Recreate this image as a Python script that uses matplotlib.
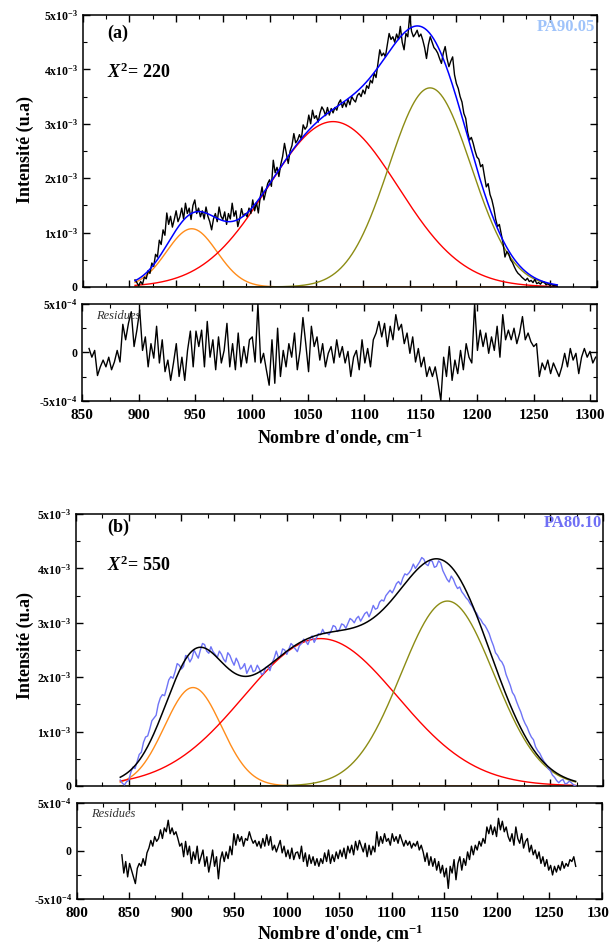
import matplotlib
matplotlib.use("Agg")
import matplotlib.pyplot as plt
import numpy as np
from matplotlib.ticker import MultipleLocator, FuncFormatter

plt.rcParams['font.family'] = ['Liberation Serif', 'DejaVu Serif']
plt.rcParams['font.weight'] = 'bold'
plt.rcParams['mathtext.fontset'] = 'custom'
plt.rcParams['mathtext.rm'] = 'Liberation Serif:bold'
plt.rcParams['mathtext.it'] = 'Liberation Serif:italic:bold'
plt.rcParams['mathtext.bf'] = 'Liberation Serif:bold'

# ---------------- panel (a) : PA90.05 ----------------
# spectrum, every 2 cm-1 from 856, intensity in 1e-3
spec_a_start = 856
spec_a = [0.13, 0.08, 0.02, 0.10, 0.05, 0.18, 0.15, 0.30, 0.25, 0.44, 0.38, 0.60, 0.55, 0.86, 0.78, 1.05,
          0.95, 1.36, 1.15, 1.30, 1.10, 1.24, 1.40, 1.20, 1.29, 1.45, 1.25, 1.54, 1.35, 1.45, 1.24, 1.50,
          1.60, 1.35, 1.45, 1.29, 1.40, 1.25, 1.47, 1.30, 1.20, 1.05, 1.25, 1.35, 1.20, 1.47, 1.30, 1.24,
          1.38, 1.15, 1.35, 1.25, 1.54, 1.30, 1.40, 1.11, 1.25, 1.44, 1.30, 1.35, 1.29, 1.45, 1.35, 1.60,
          1.40, 1.55, 1.36, 1.65, 1.84, 1.60, 1.75, 1.90, 1.97, 1.85, 2.33, 2.10, 2.20, 2.03, 2.25, 2.40,
          2.64, 2.45, 2.27, 2.50, 2.60, 2.82, 2.65, 2.70, 2.80, 2.72, 2.98, 2.90, 2.95, 3.16, 3.00, 3.25,
          3.10, 3.15, 3.03, 3.20, 3.31, 3.25, 3.15, 3.30, 3.16, 3.28, 3.20, 3.30, 3.25, 3.38, 3.44, 3.30,
          3.40, 3.31, 3.45, 3.35, 3.50, 3.44, 3.40, 3.52, 3.56, 3.50, 3.62, 3.55, 3.70, 3.65, 3.80, 3.75,
          3.93, 3.85, 4.10, 4.36, 4.25, 4.30, 4.23, 4.45, 4.66, 4.55, 4.60, 4.50, 4.65, 4.55, 4.79, 4.50,
          4.36, 4.66, 4.60, 5.00, 4.70, 4.60, 4.65, 4.72, 4.60, 4.65, 4.54, 4.40, 4.20, 4.45, 4.60, 4.50,
          4.40, 4.36, 4.30, 4.20, 4.11, 4.30, 4.42, 4.20, 4.05, 4.15, 4.23, 3.90, 3.74, 3.65, 3.50, 3.40,
          3.19, 3.10, 2.85, 2.70, 2.75, 2.64, 2.50, 2.39, 2.35, 2.21, 2.25, 2.05, 1.84, 1.90, 1.70, 1.60,
          1.45, 1.25, 1.11, 1.15, 0.98, 0.80, 0.55, 0.65, 0.61, 0.50, 0.45, 0.37, 0.30, 0.25, 0.22, 0.18,
          0.15, 0.12, 0.16, 0.10, 0.12, 0.08, 0.14, 0.06, 0.08, 0.05, 0.10, 0.09, 0.04, 0.06, 0.03, 0.05,
          0.02, 0.03, 0.01]
# fitted gaussian bands (center cm-1, height 1e-3, sigma cm-1)
centers_a = [916.7, 1068.0, 1171.8]
heights_a = [1.07, 3.04, 3.66]
sigmas_a = [27.0, 69.5, 44.0]
# residues, 1e-4
res_a_range = (856, 1305)
res_a = [0.4, -0.5, 0.2, -2.4, -1.5, -0.8, -1.5, -0.5, -1.8, -1.0, 0.2, -1.0, 2.9, 1.3, 3.0, 4.2, 0.6, 2.3,
         4.4, 0.2, 1.6, -1.5, 0.9, -0.6, 2.7, -1.1, 1.3, -2.0, -0.8, -2.9, -1.1, 0.9, -2.5, -0.5, -2.9, 0.2,
         2.2, -1.5, 2.2, 0.6, 2.3, -1.5, 3.2, -0.5, 1.3, -1.8, 1.6, -1.1, 0.2, 3.0, -1.5, 0.9, -1.8, 2.0,
         -1.5, 0.6, -1.1, 1.3, 1.6, -1.0, 5.0, -1.1, -0.1, -1.8, -3.4, 1.3, -3.2, 2.5, -2.5, 0.2, -1.5, 0.9,
         -0.5, 2.0, -1.8, 0.2, 3.6, 0.9, -2.0, 2.7, 0.6, 1.6, -0.8, 0.9, -1.5, -0.1, 0.6, -1.1, 1.3, -0.5,
         0.6, -1.1, 0.1, -2.5, -0.5, 0.2, -1.8, 1.3, -1.1, 0.4, -1.5, 1.3, 2.0, 3.2, 1.6, 3.0, 0.6, 2.7,
         1.3, 3.9, 2.3, 2.9, 0.9, 2.0, -0.1, 1.6, -1.0, 0.4, -1.5, -0.5, -2.5, -1.5, -2.5, -1.5, -3.1, -5.0,
         -0.5, -2.5, 0.6, -2.9, -0.8, -2.2, 0.2, -1.8, 0.9, -0.5, -1.1, 5.0, 0.2, 2.3, 0.6, 2.0, -0.1, 1.6,
         0.2, 2.7, -0.5, 3.9, 1.3, 2.3, 1.3, 2.5, 0.9, 2.0, 3.7, 1.3, 2.0, 1.1, 0.6, 0.9, -2.5, -1.1, -1.8,
         -0.8, -2.2, -1.1, -1.8, -2.5, -1.5, -0.1, -1.5, 0.4, -0.8, -0.1, -2.2, -0.5, 0.4, -0.5, 0.1, -1.1,
         -0.5]

# ---------------- panel (b) : PA80.10 ----------------
# spectrum, every 2 cm-1 from 842, intensity in 1e-3
spec_b_start = 842
spec_b = [0.11, 0.05, 0.02, 0.08, 0.10, 0.25, 0.35, 0.32, 0.45, 0.58, 0.62, 0.80, 0.90, 0.92, 1.05, 1.20,
          1.25, 1.30, 1.50, 1.62, 1.68, 1.66, 1.80, 1.95, 2.01, 1.98, 2.10, 2.25, 2.22, 2.15, 2.20, 2.40,
          2.38, 2.28, 2.35, 2.50, 2.42, 2.35, 2.50, 2.62, 2.60, 2.48, 2.44, 2.56, 2.47, 2.42, 2.36, 2.48,
          2.42, 2.33, 2.28, 2.45, 2.40, 2.30, 2.22, 2.35, 2.27, 2.15, 2.18, 2.25, 2.07, 2.15, 2.22, 2.10,
          2.12, 2.22, 2.15, 2.05, 2.07, 2.18, 2.20, 2.12, 2.26, 2.35, 2.48, 2.36, 2.38, 2.52, 2.50, 2.42,
          2.52, 2.62, 2.58, 2.52, 2.47, 2.58, 2.62, 2.70, 2.66, 2.60, 2.70, 2.76, 2.64, 2.72, 2.80, 2.78,
          2.88, 2.80, 2.82, 2.78, 2.85, 2.95, 2.93, 2.84, 2.88, 2.98, 2.96, 2.90, 2.99, 3.08, 3.05, 3.00,
          3.08, 3.12, 3.03, 3.10, 3.17, 3.20, 3.11, 3.20, 3.32, 3.25, 3.27, 3.38, 3.42, 3.40, 3.50, 3.55,
          3.60, 3.55, 3.63, 3.72, 3.76, 3.70, 3.82, 3.90, 3.88, 3.92, 3.98, 4.08, 4.00, 4.06, 4.12, 4.20,
          4.17, 4.08, 4.05, 4.15, 4.13, 4.02, 4.04, 4.14, 4.10, 3.96, 3.88, 3.80, 3.75, 3.86, 3.80, 3.70,
          3.63, 3.66, 3.57, 3.52, 3.46, 3.42, 3.35, 3.30, 3.22, 3.18, 3.10, 3.06, 2.99, 2.95, 2.88, 2.80,
          2.68, 2.58, 2.45, 2.40, 2.32, 2.28, 2.20, 2.05, 1.95, 1.85, 1.72, 1.66, 1.55, 1.45, 1.36, 1.24,
          1.15, 1.08, 0.98, 0.90, 0.85, 0.72, 0.65, 0.60, 0.52, 0.45, 0.40, 0.32, 0.28, 0.20, 0.16, 0.10,
          0.06, 0.10, 0.12, 0.04, 0.05, 0.09, 0.06, 0.02, 0.00]
centers_b = [911.0, 1032.0, 1152.4]
heights_b = [1.81, 2.71, 3.40]
sigmas_b = [27.0, 73.0, 44.0]
res_b_range = (843, 1275)
res_b = [-0.4, -2.3, -1.1, -2.7, -1.3, -2.0, -2.7, -3.4, -1.8, -1.3, -1.6, -0.8, -1.5, -0.2, 0.3, 1.1,
         0.5, 1.5, 1.0, 1.3, 2.2, 1.3, 2.4, 2.0, 3.2, 1.8, 2.4, 1.7, 2.0, 1.3, 0.5, 0.8, -0.6, 1.0, -0.4,
         0.5, -1.3, -0.1, -0.9, 0.5, -1.3, -0.6, 0.1, -1.6, -0.6, -2.2, -1.1, 0.1, -1.6, -0.6, -2.9, -0.9,
         -0.1, -1.1, -0.1, -0.8, 0.5, -0.4, 1.8, 0.6, 1.7, 1.0, 1.5, 0.5, 1.3, 1.1, 2.0, 1.3, 0.8, 1.1,
         0.5, 1.0, 0.3, 1.3, 0.5, 1.7, 0.6, 1.5, 0.1, 0.6, -0.1, 0.5, 1.1, -0.2, 0.5, -0.6, 0.1, -0.8,
         0.3, -0.9, -0.2, -0.1, -0.8, 0.5, -1.1, -0.2, -1.6, -0.4, -1.3, -0.6, -1.5, -0.8, -1.6, -0.8,
         -1.3, -0.2, -1.1, 0.1, -1.3, -0.4, -1.1, -0.1, -0.8, 0.1, -0.6, 0.3, -0.8, 0.5, -0.2, 0.6, -0.4,
         1.0, 0.1, 1.1, 0.5, -0.1, 0.8, -0.6, 0.6, -0.4, 0.5, -0.1, 2.0, 0.5, 1.5, 0.8, 1.8, 1.0, 1.3,
         0.6, 1.8, 1.0, 1.5, 0.8, 1.7, 1.1, 0.5, 1.1, 0.6, 1.0, 0.3, 0.8, 0.5, 1.0, 0.1, 0.6, -0.1, -1.1,
         -0.2, -1.5, -0.6, -1.6, -0.8, -2.0, -1.1, -2.3, -1.5, -2.7, -1.8, -3.9, -1.6, -2.3, -0.9, -3.0,
         -1.3, -0.6, -2.0, -0.8, -1.5, -0.1, -0.9, 0.5, -0.4, 0.6, 0.1, 1.0, 0.5, 1.3, 0.8, 2.5, 1.8, 2.7,
         1.7, 2.5, 1.5, 3.4, 2.2, 3.1, 2.0, 2.5, 1.5, 1.0, 1.8, 0.6, 2.5, 1.3, 0.8, 1.8, 0.3, 1.0, 1.3,
         -0.1, 0.6, -0.4, 0.1, -0.8, -0.1, -1.3, -0.6, -1.6, -0.9, -2.0, -1.5, -2.5, -1.6, -2.2, -1.5,
         -2.0, -1.1, -1.8, -1.3, -1.6, -0.9, -1.1, -0.6, -1.6]

band_colors = ['#ff8c1a', '#ff0000', '#8c8c14']


def gauss(x, c, h, s):
    return h * np.exp(-(x - c) ** 2 / (2 * s ** 2))


def yfmt(scale, exp):
    def f(v, pos):
        m = v / scale
        if abs(m) < 1e-9:
            return '0'
        return '%dx10$^{%d}$' % (round(m), exp)
    return FuncFormatter(f)


def style(ax, xmaj, xmin, ymaj, ymin, scale, exp):
    ax.xaxis.set_major_locator(MultipleLocator(xmaj))
    ax.xaxis.set_minor_locator(MultipleLocator(xmin))
    ax.yaxis.set_major_locator(MultipleLocator(ymaj))
    ax.yaxis.set_minor_locator(MultipleLocator(ymin))
    ax.yaxis.set_major_formatter(yfmt(scale, exp))
    ax.tick_params(which='both', direction='in', top=True, right=True)
    ax.tick_params(which='major', length=5, width=1)
    ax.tick_params(which='minor', length=3, width=0.8)
    ax.tick_params(axis='x', labelsize=11, pad=6)
    ax.tick_params(axis='y', labelsize=8.5)
    for s in ax.spines.values():
        s.set_linewidth(1.1)


fig = plt.figure(figsize=(6.09, 9.43), dpi=100)

panels = [
    dict(spec=spec_a, start=spec_a_start, c=centers_a, h=heights_a, s=sigmas_a, res=res_a, rr=res_a_range,
         main=[0.1358, 0.6957, 0.8437, 0.2884], resid=[0.1351, 0.5751, 0.8448, 0.1025],
         xlim_main=(800, 1350), xlim_res=(850, 1306), data_col='black', fit_col='#0000ff',
         tag='(a)', tag_y=0.934, chi='220', chi_y=0.79, name='PA90.05', name_col='#9fc3fa', name_y=0.956,
         tag_x=0.047, ylab_y=0.841, xlab_y=0.5366),
    dict(spec=spec_b, start=spec_b_start, c=centers_b, h=heights_b, s=sigmas_b, res=res_b, rr=res_b_range,
         main=[0.1248, 0.1665, 0.8654, 0.2884], resid=[0.1259, 0.0467, 0.8626, 0.1018],
         xlim_main=(800, 1300), xlim_res=(800, 1300), data_col='#6f74f6', fit_col='black',
         tag='(b)', tag_y=0.952, chi='550', chi_y=0.8125, name='PA80.10', name_col='#6f6ff5', name_y=0.968,
         tag_x=0.059, ylab_y=0.316, xlab_y=0.0106),
]

for p in panels:
    ax = fig.add_axes(p['main'])
    x = p['start'] + 2 * np.arange(len(p['spec']))
    y = np.array(p['spec']) * 1e-3
    xf = np.linspace(x[0], x[-1], 600)
    bands = [gauss(xf, c, h, s) * 1e-3 for c, h, s in zip(p['c'], p['h'], p['s'])]
    ax.plot(x, y, color=p['data_col'], lw=1.0, zorder=3)
    for b, col in zip(bands, band_colors):
        ax.plot(xf, b, color=col, lw=1.0, zorder=2)
    ax.plot(xf, np.sum(bands, axis=0), color=p['fit_col'], lw=1.1, zorder=4)
    ax.set_xlim(*p['xlim_main'])
    ax.set_ylim(0, 5e-3)
    style(ax, 50, 25, 1e-3, 5e-4, 1e-3, -3)
    ax.tick_params(axis='x', labelbottom=False)
    ax.text(p['tag_x'], p['tag_y'], p['tag'], transform=ax.transAxes, fontsize=13, va='center', ha='left')
    ax.text(p['tag_x'], p['chi_y'], r'$\mathit{X}^{2}$= ' + p['chi'],
            transform=ax.transAxes, fontsize=13, va='center', ha='left')
    ax.text(0.998, p['name_y'], p['name'], transform=ax.transAxes,
            fontsize=12, va='center', ha='right', color=p['name_col'])

    rax = fig.add_axes(p['resid'])
    r = np.array(p['res']) * 1e-4
    xr = np.linspace(p['rr'][0], p['rr'][1], len(r))
    rax.plot(xr, r, color='black', lw=1.0)
    rax.set_xlim(*p['xlim_res'])
    rax.set_ylim(-5e-4, 5e-4)
    style(rax, 50, 25, 5e-4, 2.5e-4, 1e-4, -4)
    rax.text(0.027, 0.88, 'Residues', transform=rax.transAxes, fontsize=9, style='italic',
             weight='normal', color='#333333', va='center', ha='left')

    fig.text(25 / 609, p['ylab_y'], 'Intensité (u.a)', rotation=90, fontsize=13, ha='center', va='center')
    fig.text(0.558, p['xlab_y'], "Nombre d'onde, cm$^{-1}$", fontsize=13, ha='center', va='center')

fig.savefig('out.png', dpi=100)
